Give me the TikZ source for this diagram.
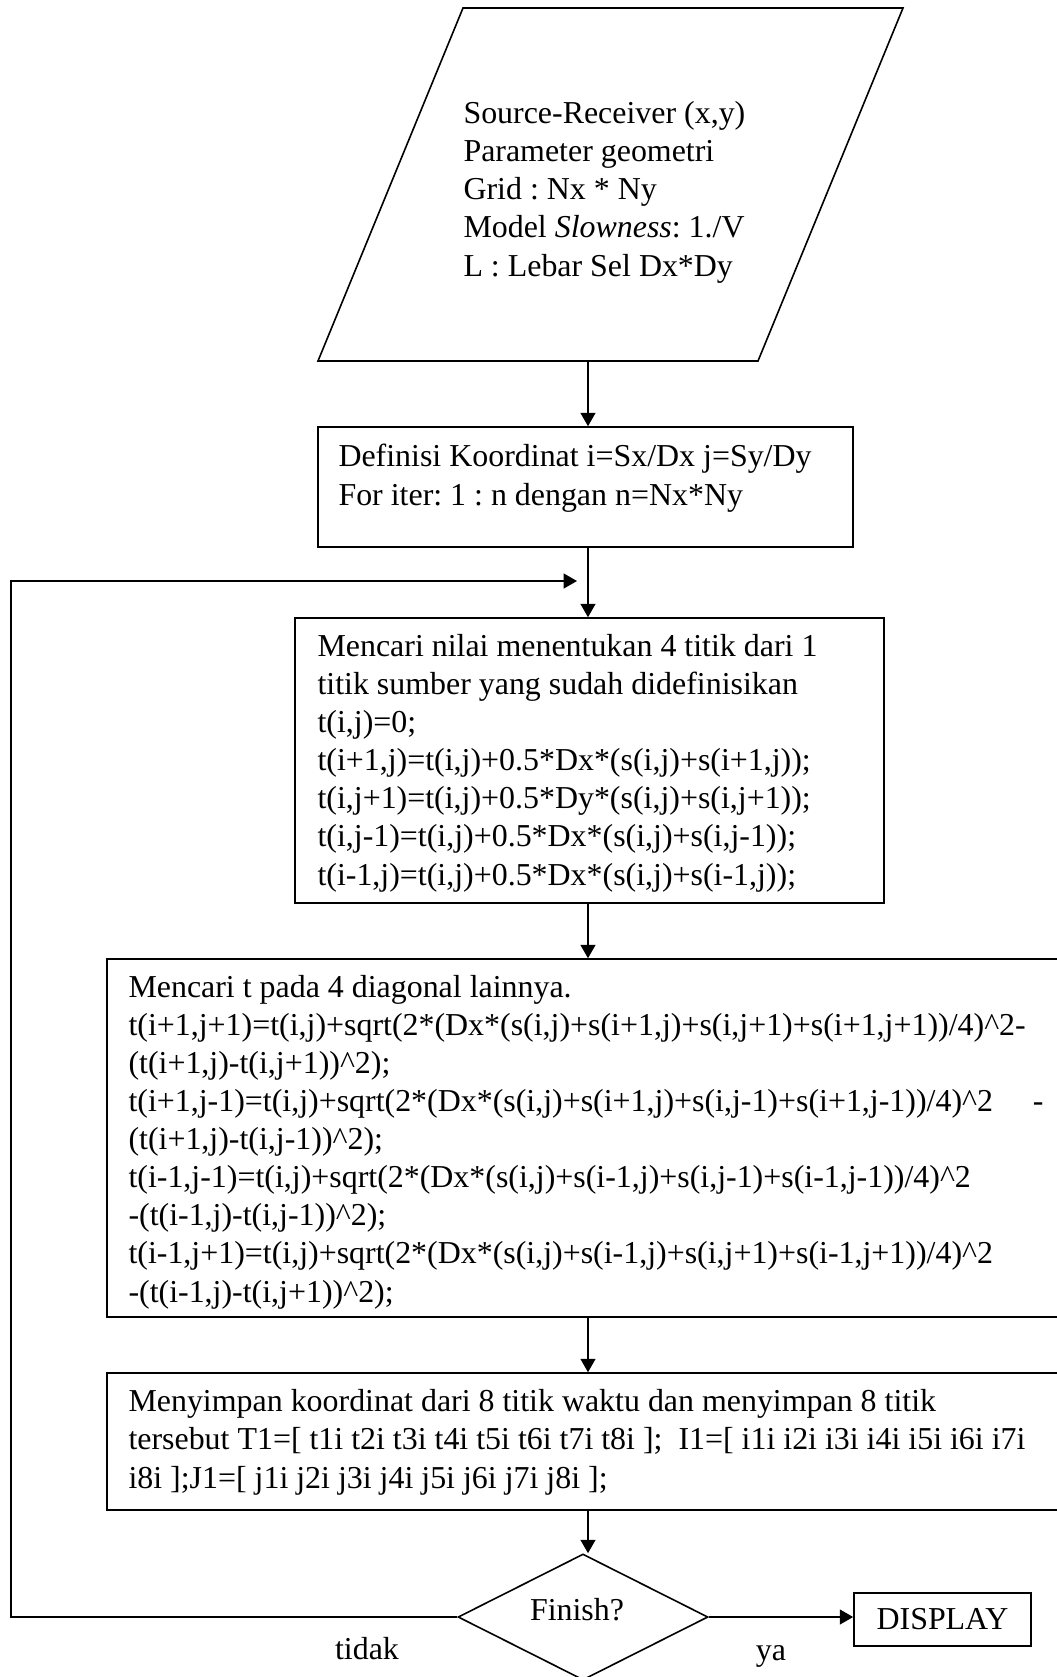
\documentclass[tikz,border=0pt]{standalone}
\usepackage{fontspec}
\setmainfont{Liberation Serif}
\usetikzlibrary{arrows.meta,fit,shapes.geometric}

\tikzset{
  box/.style={draw, line width=0.6pt, inner sep=0pt},
  txt/.style={align=left, inner sep=0pt, anchor=base west, font=\fontsize{12pt}{14.3pt}\selectfont\frenchspacing},
  lbl/.style={inner sep=0pt, font=\fontsize{12pt}{14.3pt}\selectfont},
  flow/.style={line width=0.5pt, -{Triangle[width=5.6pt,length=5pt]}},
  decision/.style={draw, diamond, aspect=2, inner sep=0pt, line width=0.6pt, minimum width=94pt, minimum height=47.4pt}
}
\newcommand{\pw}{\textasciicircum}

\begin{document}
\begin{tikzpicture}[x=0.376pt, y=-0.376pt]
	%%%%% START %%%%%
	\clip (0,0) rectangle (1057,1677);
	\coordinate (spine) at (588,0);
	
	% input data (base = last line)
	\draw[line width=0.6pt] (463,8) -- (903,8) -- (758,361) -- (318,361) -- cycle;
	\coordinate (inbot) at (588,361);
	\node[txt] (intxt) at (463,276) {Source-Receiver (x,y)\\Parameter geometri\\Grid : Nx * Ny\\Model \textit{Slowness}: 1./V\\L : Lebar Sel Dx*Dy};
	
	% koordinat
	\node[box, fit={(318,427) (853,547)}] (defbox) {};
	\node[txt] (deftxt) at (338,505) {Definisi Koordinat i=Sx/Dx j=Sy/Dy\\For iter: 1 : n dengan n=Nx*Ny};
	
	% 4 titik
	\node[box, fit={(295,618) (884,903)}] (mcbox) {};
	\node[txt] (mctxt) at (317,885) {Mencari nilai menentukan 4 titik dari 1\\titik sumber yang sudah didefinisikan\\t(i,j)=0;\\t(i+1,j)=t(i,j)+0.5*Dx*(s(i,j)+s(i+1,j));\\t(i,j+1)=t(i,j)+0.5*Dy*(s(i,j)+s(i,j+1));\\t(i,j-1)=t(i,j)+0.5*Dx*(s(i,j)+s(i,j-1));\\t(i-1,j)=t(i,j)+0.5*Dx*(s(i,j)+s(i-1,j));};
	
	% diagonal
	\node[box, fit={(107,959) (1070,1317)}] (diagbox) {};
	\node[txt] (diagtxt) at (128,1302) {Mencari t pada 4 diagonal lainnya.\\t(i+1,j+1)=t(i,j)+sqrt(2*(Dx*(s(i,j)+s(i+1,j)+s(i,j+1)+s(i+1,j+1))/4)\pw2-\\(t(i+1,j)-t(i,j+1))\pw2);\\t(i+1,j-1)=t(i,j)+sqrt(2*(Dx*(s(i,j)+s(i+1,j)+s(i,j-1)+s(i+1,j-1))/4)\pw2\hspace{15pt}-\\(t(i+1,j)-t(i,j-1))\pw2);\\t(i-1,j-1)=t(i,j)+sqrt(2*(Dx*(s(i,j)+s(i-1,j)+s(i,j-1)+s(i-1,j-1))/4)\pw2\\-(t(i-1,j)-t(i,j-1))\pw2);\\t(i-1,j+1)=t(i,j)+sqrt(2*(Dx*(s(i,j)+s(i-1,j)+s(i,j+1)+s(i-1,j+1))/4)\pw2\\-(t(i-1,j)-t(i,j+1))\pw2);};
	
	% simpan
	\node[box, fit={(107,1373) (1070,1510)}] (savebox) {};
	\node[txt] (savetxt) at (128,1488) {Menyimpan koordinat dari 8 titik waktu dan menyimpan 8 titik\\tersebut T1=[ t1i t2i t3i t4i t5i t6i t7i t8i ];\ \ I1=[ i1i i2i i3i i4i i5i i6i i7i\\i8i ];J1=[ j1i j2i j3i j4i j5i j6i j7i j8i ];};
	
	% finish
	\node[decision] (finish) at (583,1617) {};
	\node[lbl, anchor=base] (finishtxt) at (577,1620) {Finish?};
	\node[box, lbl, draw, minimum width=66.6pt, minimum height=19.9pt] (display) at (942.5,1619.5) {DISPLAY};
	\node[lbl, anchor=base] (tidak) at (367,1659) {tidak};
	\node[lbl, anchor=base] (ya) at (771,1660) {ya};
	
	\coordinate (loopcorner) at (11,581);
	\coordinate (loopend) at (577,581);
	
	\draw[flow] (inbot) -- (defbox.north -| spine);
	\draw[flow] (defbox.south -| spine) -- (mcbox.north -| spine);
	\draw[flow] (mcbox.south -| spine) -- (diagbox.north -| spine);
	\draw[flow] (diagbox.south -| spine) -- (savebox.north -| spine);
	\draw[flow] (savebox.south -| spine) -- (finish.north -| spine);
	\draw[flow] (finish.east) -- (finish.east -| display.west);
	\draw[flow] (finish.west) -| (loopcorner) -- (loopend);
	
	%%%%% END %%%%%
\end{tikzpicture}
\end{document}
